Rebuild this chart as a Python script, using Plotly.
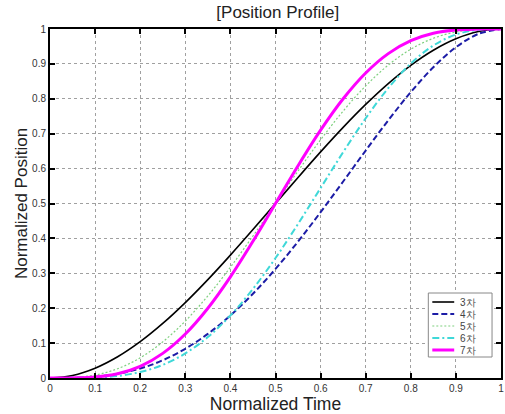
import plotly.graph_objects as go

t = [0, 0.05, 0.1, 0.15, 0.2, 0.25, 0.3, 0.35, 0.4, 0.45, 0.5,
     0.55, 0.6, 0.65, 0.7, 0.75, 0.8, 0.85, 0.9, 0.95, 1]

order3 = [0, 0.00725, 0.028, 0.06075, 0.104, 0.15625, 0.216, 0.28175, 0.352, 0.42525, 0.5,
          0.57475, 0.648, 0.71825, 0.784, 0.84375, 0.896, 0.93925, 0.972, 0.99275, 1]
order4 = [0, 0.00048, 0.0037, 0.01198, 0.0272, 0.05078, 0.0837, 0.12648, 0.1792, 0.24148, 0.3125,
          0.39098, 0.4752, 0.56298, 0.6517, 0.73828, 0.8192, 0.89048, 0.9477, 0.98598, 1]
order5 = [0, 0.00116, 0.00856, 0.02661, 0.05792, 0.10352, 0.16308, 0.23517, 0.31744, 0.40687, 0.5,
          0.59313, 0.68256, 0.76483, 0.83692, 0.89648, 0.94208, 0.97339, 0.99144, 0.99884, 1]
order6 = [0, 0.00009, 0.00127, 0.00589, 0.01696, 0.0376, 0.07047, 0.11742, 0.1792, 0.25526, 0.34375,
          0.44152, 0.54432, 0.64709, 0.74431, 0.83057, 0.90112, 0.95266, 0.98415, 0.99777, 1]
order7 = [0, 0.00019, 0.00273, 0.0121, 0.03334, 0.07056, 0.12604, 0.19985, 0.28979, 0.39171, 0.5,
          0.60829, 0.71021, 0.80015, 0.87396, 0.92944, 0.96666, 0.9879, 0.99727, 0.99981, 1]

names = ["3차", "4차", "5차", "6차", "7차"]
series = [order3, order4, order5, order6, order7]
colors = ["#000000", "#1c1ca6", "#7fd07f", "#3fd8d8", "#ff00ff"]
dashes = ["solid", "6px,3px", "2px,2px", "7px,3px,2px,3px", "solid"]
widths = [1.6, 2, 1.2, 2, 3]

fig = go.Figure()
for n, s, c, d, w in zip(names, series, colors, dashes, widths):
    fig.add_trace(go.Scatter(x=t, y=s, mode="lines", name=n, showlegend=False,
                             line=dict(color=c, dash=d, width=w, shape="spline", smoothing=1)))

# manual compact legend (paper coordinates of the plot area)
W, H = 453.0, 349.0
def px(x):
    return (x - 50) / W
def py(y):
    return (378 - y) / H

shapes = [dict(type="rect", xref="paper", yref="paper",
               x0=px(430), x1=px(494), y0=py(357), y1=py(293),
               line=dict(color="#888888", width=1), fillcolor="white", layer="above")]
annotations = []
for i, (n, c, d, w) in enumerate(zip(names, colors, dashes, widths)):
    yc = 302 + 12 * i
    shapes.append(dict(type="line", xref="paper", yref="paper",
                       x0=px(434), x1=px(456), y0=py(yc), y1=py(yc),
                       line=dict(color=c, dash=d, width=w), layer="above"))
    annotations.append(dict(xref="paper", yref="paper", x=px(460), y=py(yc),
                            xanchor="left", yanchor="middle", showarrow=False, text=n,
                            font=dict(family="Liberation Sans, Arial", size=10, color="#444444")))

axis_common = dict(
    range=[0, 1], dtick=0.1, tick0=0,
    showgrid=True, gridcolor="#a0a0a0", griddash="dot", gridwidth=1,
    zeroline=False, showline=True, linecolor="black", linewidth=2,
    mirror="ticks", ticks="inside", ticklen=5, tickwidth=2, tickcolor="black",
    tickfont=dict(family="Liberation Sans, Arial", size=10, color="#333333"),
)

fig.update_layout(
    width=505, height=414,
    margin=dict(l=50, r=2, t=29, b=36),
    paper_bgcolor="white", plot_bgcolor="white",
    title=dict(text="[Position Profile]", x=0.55, xanchor="center", y=0.985, yanchor="top",
               font=dict(family="Liberation Sans, Arial", size=17, color="#222222")),
    xaxis=dict(axis_common, title=dict(text="Normalized Time", standoff=3,
               font=dict(family="Liberation Sans, Arial", size=17.5, color="#222222"))),
    yaxis=dict(axis_common, title=dict(text="Normalized Position", standoff=0,
               font=dict(family="Liberation Sans, Arial", size=17, color="#222222"))),
    shapes=shapes, annotations=annotations,
    showlegend=False,
)

fig.write_html("out.html")
